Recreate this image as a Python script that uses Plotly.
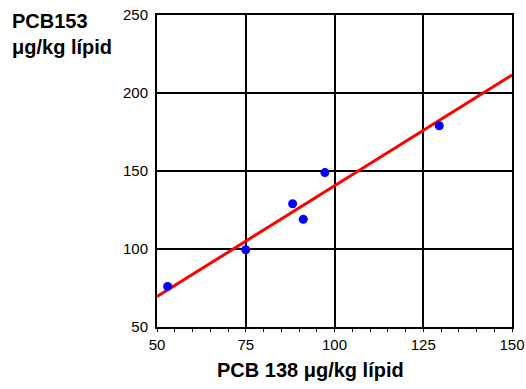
import plotly.graph_objects as go

pcb138 = [53, 75, 88.2, 91.2, 97.3, 129.5]
pcb153 = [76, 99.5, 129, 119, 149, 179]
fit_x = [50, 150]
fit_y = [69.5, 211.5]

x_ticks = [50, 75, 100, 125, 150]
y_ticks = [50, 100, 150, 200, 250]

FONT = "Liberation Sans, Arial, sans-serif"

W, H = 526, 389
ML, MR, MT, MB = 157, 14, 15, 62
PW, PH = W - ML - MR, H - MT - MB

fig = go.Figure()
fig.add_trace(go.Scatter(x=fit_x, y=fit_y, mode="lines",
                         line=dict(color="#ff0000", width=3), showlegend=False))
fig.add_trace(go.Scatter(x=pcb138, y=pcb153, mode="markers",
                         marker=dict(color="#0000ff", size=9), showlegend=False))

fig.update_layout(
    width=W, height=H,
    margin=dict(l=ML, r=MR, t=MT, b=MB, autoexpand=False),
    paper_bgcolor="white", plot_bgcolor="white",
    font=dict(family=FONT, color="black", size=15),
    xaxis=dict(range=[50, 150], tickvals=x_ticks, ticks="", automargin=False,
               showgrid=True, gridcolor="black", gridwidth=1.5,
               showline=True, linecolor="black", linewidth=2, mirror=True,
               zeroline=False, tickfont=dict(size=15), ticklabelstandoff=3,
               minor=dict(dtick=5, tick0=50, ticks="outside", ticklen=3,
                          tickcolor="black", tickwidth=1, showgrid=False)),
    yaxis=dict(range=[50, 250], tickvals=y_ticks, ticks="", automargin=False,
               showgrid=True, gridcolor="black", gridwidth=1.5,
               showline=True, linecolor="black", linewidth=2, mirror=True,
               zeroline=False, tickfont=dict(size=15), ticklabelstandoff=4),
    annotations=[
        dict(text="<b>PCB153<br>μg/kg lípid</b>",
             x=(10 - ML) / PW, y=(H - MB - 8) / PH,
             xref="paper", yref="paper", showarrow=False,
             xanchor="left", yanchor="top", align="left",
             font=dict(size=20, family=FONT)),
        dict(text="<b>PCB 138 μg/kg lípid</b>",
             x=(310 - ML) / PW, y=(H - MB - 370) / PH,
             xref="paper", yref="paper", showarrow=False,
             xanchor="center", yanchor="middle",
             font=dict(size=20, family=FONT)),
    ],
)
fig.write_html("out.html")
